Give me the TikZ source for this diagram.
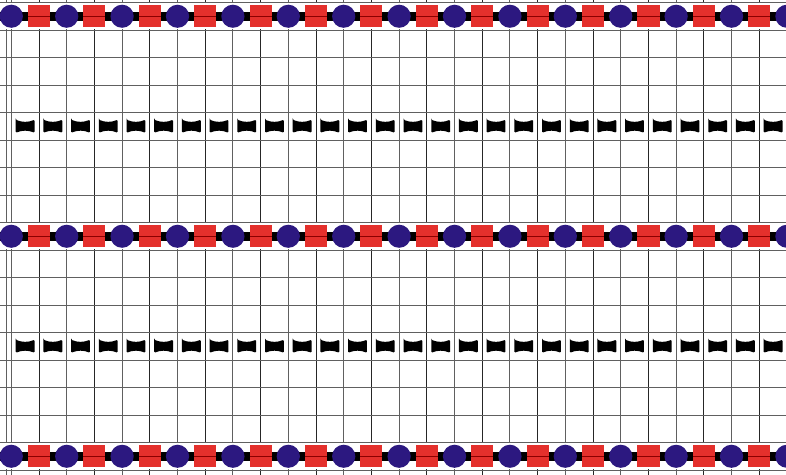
\documentclass[tikz,border=0pt]{standalone}
\usepackage{tikz}
\definecolor{beadblue}{RGB}{44,24,128}
\definecolor{beadred}{RGB}{228,48,44}
\begin{document}
\begin{tikzpicture}[x=0.5cm, y=0.4964cm,
    gridline/.style={line width=0.5pt, gray!75!black},
    darkline/.style={line width=0.5pt, black!85},
    bar/.style={line width=4.6pt, black},
    circbead/.style={fill=beadblue},
    sqbead/.style={fill=beadred},
    spacer/.style={fill=black, rounded corners=0.6pt}]
  \useasboundingbox (0,0) rectangle (28.375,-17.27);
  \begin{scope}
    \clip (0,0) rectangle (28.375,-17.27);
    % grid
    \foreach \k in {0,...,28} {
      \pgfmathsetmacro{\xx}{0.408+\k}
      \ifodd\k
        \draw[darkline] (\xx,0) -- (\xx,-17.27);
      \else
        \draw[gridline] (\xx,0) -- (\xx,-17.27);
      \fi
    }
    \draw[gridline] (0.25,0) -- (0.25,-17.27);
    \foreach \k in {0,...,17}
      \draw[gridline] (0,-0.091-\k) -- (28.375,-0.091-\k);
    % bead rows
    \foreach \r in {0,8,16} {
      \pgfmathsetmacro{\yy}{-0.591-\r}
      \fill[white] (0,\yy+0.47) rectangle (28.375,\yy-0.47);
      \draw[bar] (0,\yy) -- (28.375,\yy);
      \foreach \k in {0,...,28} {
        \pgfmathsetmacro{\xx}{0.408+\k}
        \ifodd\k
          \fill[sqbead] (\xx-0.4,\yy-0.4) rectangle (\xx+0.4,\yy+0.4);
          \draw[red!55!black, line width=0.4pt] (\xx-0.4,\yy) -- (\xx+0.4,\yy);
        \else
          \fill[circbead] (\xx,\yy) circle (0.42);
        \fi
      }
    }
    % spacer rows
    \foreach \r in {4,12} {
      \pgfmathsetmacro{\yy}{-0.591-\r}
      \foreach \k in {0,...,27} {
        \pgfmathsetmacro{\xx}{0.908+\k}
        \fill[spacer] (\xx-0.34,\yy+0.24) -- (\xx-0.34,\yy-0.24)
          .. controls (\xx-0.12,\yy-0.14) and (\xx+0.12,\yy-0.14) .. (\xx+0.34,\yy-0.24)
          -- (\xx+0.34,\yy+0.24)
          .. controls (\xx+0.12,\yy+0.14) and (\xx-0.12,\yy+0.14) .. cycle;
      }
    }
  \end{scope}
\end{tikzpicture}
\end{document}
